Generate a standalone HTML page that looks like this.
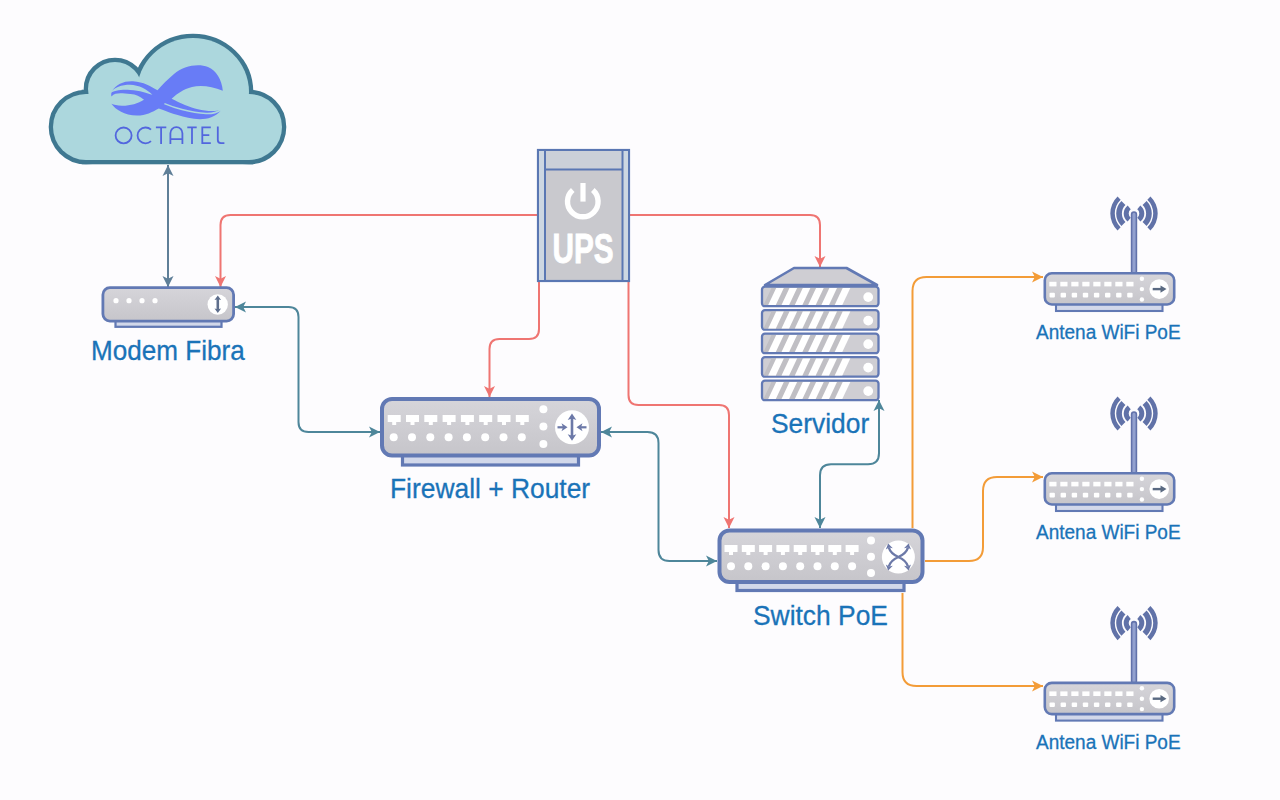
<!DOCTYPE html>
<html><head><meta charset="utf-8"><style>html,body{margin:0;padding:0;background:#fdfcfe;overflow:hidden;}svg{display:block;}</style></head>
<body><svg width="1280" height="800" viewBox="0 0 1280 800"><defs><linearGradient id="gbody" x1="0" y1="0" x2="0" y2="1"><stop offset="0" stop-color="#d6d5da"/><stop offset="1" stop-color="#c6c5ca"/></linearGradient></defs><rect width="1280" height="800" fill="#fdfcfe"/><g><circle cx="86" cy="127" r="33" fill="#3f7891" stroke="#3f7891" stroke-width="8.6"/><circle cx="115" cy="89" r="27" fill="#3f7891" stroke="#3f7891" stroke-width="8.6"/><ellipse cx="193" cy="92" rx="56" ry="54" fill="#3f7891" stroke="#3f7891" stroke-width="8.6"/><circle cx="249" cy="127" r="33" fill="#3f7891" stroke="#3f7891" stroke-width="8.6"/><rect x="86" y="94" width="163" height="66" fill="#3f7891" stroke="#3f7891" stroke-width="8.6"/><circle cx="86" cy="127" r="33" fill="#acd7dd" stroke="none" stroke-width="0"/><circle cx="115" cy="89" r="27" fill="#acd7dd" stroke="none" stroke-width="0"/><ellipse cx="193" cy="92" rx="56" ry="54" fill="#acd7dd" stroke="none" stroke-width="0"/><circle cx="249" cy="127" r="33" fill="#acd7dd" stroke="none" stroke-width="0"/><rect x="86" y="94" width="163" height="66" fill="#acd7dd" stroke="none" stroke-width="0"/></g><g fill="#687cf6"><path d="M111.4,103.7 C116,110 124,115 137,115.5 C146,115.5 152,112 158.8,108.4 C166,111 178,116 194,118.8 C203,120 214,119 221.2,110 C214,112 205,111 198,109.2 C190,107.5 180,103 171.6,98.8 C178,93 183,89.5 192,87 C200,85 212,86 222.8,90.8 C222,80 216,70 208,67 C198,63 183,66 174,74 C168,79 162,85 157.5,90.2 C150,86 144,82 133,81.2 C124,80.8 116,84 111.9,91.3 C111,93 111.2,95 111.4,96.4 C116,92 122,93.5 130.5,94.1 C136,94.5 140,96.5 144,99.7 C138,103.5 130,105.8 122,105.7 C117,105.6 114,104.8 111.4,103.7 Z"/></g><path d="M109,94 C114,87 122,84.8 130,84.8 C139,85 147,89.5 152.4,94.7 C147,93 140,90.5 130,89.9 C122,89.4 114,90 109,94 Z" fill="#acd7dd"/><path d="M164.4,103.6 C170,106 176,108 182,109.5 C190,111.5 198,113 206,113.5 C212,113.8 217,112.5 220.8,110" fill="none" stroke="#acd7dd" stroke-width="1.5"/><g fill="none" stroke="#5266de" stroke-width="1.8" stroke-linecap="butt"><ellipse cx="123.6" cy="135.4" rx="8" ry="7.9"/><path d="M151,129.6 A8,7.9 0 1 0 151,141.2"/><path d="M155.9,127.4 H166.3 M161.1,127.4 V144"/><path d="M170.4,144 V133.2 A6,6 0 0 1 182.4,133.2 V144 M170.4,139.2 H182.4"/><path d="M187.3,127.4 H196.7 M192,127.4 V144"/><path d="M210.8,127.4 H202.3 V143.1 H210.8 M202.3,135.2 H209.3"/><path d="M217.8,126.5 V140.1 Q217.8,143.1 220.8,143.1 H224.4"/></g><path d="M168,287 L168,165" fill="none" stroke="#5f7f98" stroke-width="2"/><path d="M168.0,165.0 L173.5,176.0 L168.0,173.2 L162.5,176.0 Z" fill="#5f7f98"/><path d="M168.0,287.0 L162.5,276.0 L168.0,278.8 L173.5,276.0 Z" fill="#5f7f98"/><path d="M537,215 L230.5,215.0 Q220.5,215 220.5,225.0 L220.5,287" fill="none" stroke="#ef7572" stroke-width="2"/><path d="M220.5,287.0 L215.0,276.0 L220.5,278.8 L226.0,276.0 Z" fill="#ef7572"/><path d="M630,215 L810.0,215.0 Q820,215 820.0,225.0 L820,267" fill="none" stroke="#ef7572" stroke-width="2"/><path d="M820.0,267.0 L814.5,256.0 L820.0,258.8 L825.5,256.0 Z" fill="#ef7572"/><path d="M539,282 L539.0,329.0 Q539,339 529.0,339.0 L499.5,339.0 Q489.5,339 489.5,349.0 L489.5,397" fill="none" stroke="#ef7572" stroke-width="2"/><path d="M489.5,397.0 L484.0,386.0 L489.5,388.8 L495.0,386.0 Z" fill="#ef7572"/><path d="M628.5,282 L628.5,395.0 Q628.5,405 638.5,405.0 L719.0,405.0 Q729,405 729.0,415.0 L729,528" fill="none" stroke="#ef7572" stroke-width="2"/><path d="M729.0,528.0 L723.5,517.0 L729.0,519.8 L734.5,517.0 Z" fill="#ef7572"/><path d="M235,307 L288.5,307.0 Q298.5,307 298.5,317.0 L298.5,422.0 Q298.5,432 308.5,432.0 L380,432" fill="none" stroke="#4e869a" stroke-width="2"/><path d="M380.0,432.0 L369.0,437.5 L371.8,432.0 L369.0,426.5 Z" fill="#4e869a"/><path d="M235.0,307.0 L246.0,301.5 L243.2,307.0 L246.0,312.5 Z" fill="#4e869a"/><path d="M601,432 L647.5,432.0 Q658.5,432 658.5,443.0 L658.5,550.0 Q658.5,561 669.5,561.0 L717,561" fill="none" stroke="#4e869a" stroke-width="2"/><path d="M717.0,561.0 L706.0,566.5 L708.8,561.0 L706.0,555.5 Z" fill="#4e869a"/><path d="M601.0,432.0 L612.0,426.5 L609.2,432.0 L612.0,437.5 Z" fill="#4e869a"/><path d="M879,400 L879.0,453.3 Q879,464.3 868.0,464.3 L831.0,464.3 Q820,464.3 820.0,475.3 L820,528" fill="none" stroke="#4e869a" stroke-width="2"/><path d="M820.0,528.0 L814.5,517.0 L820.0,519.8 L825.5,517.0 Z" fill="#4e869a"/><path d="M879.0,400.0 L884.5,411.0 L879.0,408.2 L873.5,411.0 Z" fill="#4e869a"/><path d="M912.5,528 L912.5,291.0 Q912.5,277 926.5,277.0 L1043,277" fill="none" stroke="#f39c38" stroke-width="2"/><path d="M1043.0,277.0 L1032.0,282.5 L1034.8,277.0 L1032.0,271.5 Z" fill="#f39c38"/><path d="M925,561 L969.0,561.0 Q983,561 983.0,547.0 L983.0,491.0 Q983,477 997.0,477.0 L1043,477" fill="none" stroke="#f39c38" stroke-width="2"/><path d="M1043.0,477.0 L1032.0,482.5 L1034.8,477.0 L1032.0,471.5 Z" fill="#f39c38"/><path d="M902.5,593 L902.5,672.0 Q902.5,686 916.5,686.0 L1043,686" fill="none" stroke="#f39c38" stroke-width="2"/><path d="M1043.0,686.0 L1032.0,691.5 L1034.8,686.0 L1032.0,680.5 Z" fill="#f39c38"/><rect x="115.5" y="319.7" width="106.0" height="7.099999999999989" fill="#d2d8ea" stroke="#6279b4" stroke-width="2.2399999999999998"/><rect x="102.9" y="287.7" width="130.7" height="33.39999999999999" rx="7" fill="url(#gbody)" stroke="#6279b4" stroke-width="2.8"/><circle cx="116.0" cy="300.7" r="2.6" fill="#fff"/><circle cx="129.0" cy="300.7" r="2.6" fill="#fff"/><circle cx="142.0" cy="300.7" r="2.6" fill="#fff"/><circle cx="155.0" cy="300.7" r="2.6" fill="#fff"/><circle cx="217.7" cy="304.5" r="10.2" fill="#fff"/><line x1="217.8" y1="298" x2="217.8" y2="310.5" stroke="#5e6e8c" stroke-width="2.6"/><path d="M217.8,295.5 L221.1,300.0 L217.8,299.2 L214.5,300.0 Z" fill="#5e6e8c"/><path d="M217.8,313.0 L214.5,308.5 L217.8,309.3 L221.1,308.5 Z" fill="#5e6e8c"/><rect x="402.5" y="453.5" width="176.0" height="11.5" fill="#d2d8ea" stroke="#6279b4" stroke-width="3.2"/><rect x="382.0" y="399.0" width="217" height="56.5" rx="10" fill="url(#gbody)" stroke="#6279b4" stroke-width="4"/><rect x="387.7" y="415.0" width="13" height="7" fill="#fff"/><rect x="392.2" y="422.0" width="4" height="3" fill="#fff"/><rect x="406.0" y="415.0" width="13" height="7" fill="#fff"/><rect x="410.5" y="422.0" width="4" height="3" fill="#fff"/><rect x="424.3" y="415.0" width="13" height="7" fill="#fff"/><rect x="428.8" y="422.0" width="4" height="3" fill="#fff"/><rect x="442.6" y="415.0" width="13" height="7" fill="#fff"/><rect x="447.1" y="422.0" width="4" height="3" fill="#fff"/><rect x="460.9" y="415.0" width="13" height="7" fill="#fff"/><rect x="465.4" y="422.0" width="4" height="3" fill="#fff"/><rect x="479.2" y="415.0" width="13" height="7" fill="#fff"/><rect x="483.7" y="422.0" width="4" height="3" fill="#fff"/><rect x="497.5" y="415.0" width="13" height="7" fill="#fff"/><rect x="502.0" y="422.0" width="4" height="3" fill="#fff"/><rect x="515.8" y="415.0" width="13" height="7" fill="#fff"/><rect x="520.3" y="422.0" width="4" height="3" fill="#fff"/><circle cx="393.7" cy="437.3" r="4" fill="#fff"/><circle cx="412.0" cy="437.3" r="4" fill="#fff"/><circle cx="430.3" cy="437.3" r="4" fill="#fff"/><circle cx="448.6" cy="437.3" r="4" fill="#fff"/><circle cx="466.9" cy="437.3" r="4" fill="#fff"/><circle cx="485.2" cy="437.3" r="4" fill="#fff"/><circle cx="503.5" cy="437.3" r="4" fill="#fff"/><circle cx="521.8" cy="437.3" r="4" fill="#fff"/><circle cx="543.4" cy="409.2" r="4" fill="#fff"/><circle cx="543.4" cy="426.6" r="4" fill="#fff"/><circle cx="543.4" cy="444.0" r="4" fill="#fff"/><circle cx="572" cy="427.3" r="17" fill="#fff"/><g stroke="#6c79a8" fill="none"><line x1="572" y1="418" x2="572" y2="436" stroke-width="2.6"/><line x1="557.5" y1="427.3" x2="564" y2="427.3" stroke-width="2.2"/><line x1="580" y1="427.3" x2="586.5" y2="427.3" stroke-width="2.2"/></g><path d="M572.0,413.5 L576.3,420.0 L572.0,418.5 L567.7,420.0 Z" fill="#6c79a8"/><path d="M572.0,440.8 L567.7,434.3 L572.0,435.8 L576.3,434.3 Z" fill="#6c79a8"/><path d="M567.5,427.3 L561.5,431.3 L563.0,427.3 L561.5,423.3 Z" fill="#6c79a8"/><path d="M576.5,427.3 L582.5,423.3 L581.0,427.3 L582.5,431.3 Z" fill="#6c79a8"/><rect x="737" y="580" width="167" height="10.5" fill="#d2d8ea" stroke="#6279b4" stroke-width="3.2"/><rect x="719.5" y="530.5" width="203.0" height="51.5" rx="10" fill="url(#gbody)" stroke="#6279b4" stroke-width="4"/><rect x="724.5" y="545.0" width="13" height="7" fill="#fff"/><rect x="729.0" y="552.0" width="4" height="3" fill="#fff"/><rect x="741.8" y="545.0" width="13" height="7" fill="#fff"/><rect x="746.3" y="552.0" width="4" height="3" fill="#fff"/><rect x="759.1" y="545.0" width="13" height="7" fill="#fff"/><rect x="763.6" y="552.0" width="4" height="3" fill="#fff"/><rect x="776.4" y="545.0" width="13" height="7" fill="#fff"/><rect x="780.9" y="552.0" width="4" height="3" fill="#fff"/><rect x="793.7" y="545.0" width="13" height="7" fill="#fff"/><rect x="798.2" y="552.0" width="4" height="3" fill="#fff"/><rect x="811.0" y="545.0" width="13" height="7" fill="#fff"/><rect x="815.5" y="552.0" width="4" height="3" fill="#fff"/><rect x="828.3" y="545.0" width="13" height="7" fill="#fff"/><rect x="832.8" y="552.0" width="4" height="3" fill="#fff"/><rect x="845.6" y="545.0" width="13" height="7" fill="#fff"/><rect x="850.1" y="552.0" width="4" height="3" fill="#fff"/><circle cx="731.0" cy="566.3" r="4" fill="#fff"/><circle cx="748.3" cy="566.3" r="4" fill="#fff"/><circle cx="765.6" cy="566.3" r="4" fill="#fff"/><circle cx="782.9" cy="566.3" r="4" fill="#fff"/><circle cx="800.2" cy="566.3" r="4" fill="#fff"/><circle cx="817.5" cy="566.3" r="4" fill="#fff"/><circle cx="834.8" cy="566.3" r="4" fill="#fff"/><circle cx="852.1" cy="566.3" r="4" fill="#fff"/><circle cx="871" cy="540.5" r="4" fill="#fff"/><circle cx="871" cy="556.7" r="4" fill="#fff"/><circle cx="871" cy="572.9" r="4" fill="#fff"/><circle cx="898.4" cy="557" r="16.5" fill="#fff"/><path d="M888.8,547.5 Q890.5,553.5 898.4,557 Q906.3,553.5 908,547.5 M888.8,566.5 Q890.5,560.5 898.4,557 Q906.3,560.5 908,566.5" fill="none" stroke="#6c79a8" stroke-width="2.4"/><path d="M888.2,543.5 L892.8,548.2 L889.0,547.4 L885.8,549.6 Z" fill="#6c79a8"/><path d="M908.6,543.5 L911.0,549.6 L907.8,547.4 L904.0,548.2 Z" fill="#6c79a8"/><path d="M888.2,570.5 L885.8,564.4 L889.0,566.6 L892.8,565.8 Z" fill="#6c79a8"/><path d="M908.6,570.5 L904.0,565.8 L907.8,566.6 L911.0,564.4 Z" fill="#6c79a8"/><path d="M1117.54,196.45 A23.7,23.7 0 0 0 1117.54,230.55 L1120.66,227.31 A19.2,19.2 0 0 1 1120.66,199.69 Z" fill="#6172a8"/><path d="M1150.46,196.45 A23.7,23.7 0 0 1 1150.46,230.55 L1147.34,227.31 A19.2,19.2 0 0 0 1147.34,199.69 Z" fill="#6172a8"/><path d="M1121.41,200.91 A17.8,17.8 0 0 0 1121.41,226.09 L1125.44,222.06 A12.1,12.1 0 0 1 1125.44,204.94 Z" fill="#6172a8"/><path d="M1146.59,200.91 A17.8,17.8 0 0 1 1146.59,226.09 L1142.56,222.06 A12.1,12.1 0 0 0 1142.56,204.94 Z" fill="#6172a8"/><path d="M1127.66,205.38 A10.3,10.3 0 0 0 1127.66,221.62 L1130.74,217.68 A5.3,5.3 0 0 1 1130.74,209.32 Z" fill="#6172a8"/><path d="M1140.34,205.38 A10.3,10.3 0 0 1 1140.34,221.62 L1137.26,217.68 A5.3,5.3 0 0 0 1137.26,209.32 Z" fill="#6172a8"/><rect x="1131.6" y="212" width="4.8" height="62" rx="2.4" fill="#93a1cf" stroke="#6272aa" stroke-width="1.6"/><rect x="1056" y="303.2" width="106.5" height="7.8" fill="#d2d8ea" stroke="#6279b4" stroke-width="2.08"/><rect x="1044.8" y="273.3" width="129.4" height="31.20000000000001" rx="7" fill="url(#gbody)" stroke="#6279b4" stroke-width="2.6"/><rect x="1049.3" y="281.8" width="7.2" height="4.6" fill="#fff"/><rect x="1049.5" y="292.8" width="5.4" height="4.6" rx="1" fill="#fff"/><rect x="1060.3" y="281.8" width="7.2" height="4.6" fill="#fff"/><rect x="1060.6" y="292.8" width="5.4" height="4.6" rx="1" fill="#fff"/><rect x="1071.3" y="281.8" width="7.2" height="4.6" fill="#fff"/><rect x="1071.7" y="292.8" width="5.4" height="4.6" rx="1" fill="#fff"/><rect x="1082.3" y="281.8" width="7.2" height="4.6" fill="#fff"/><rect x="1082.8" y="292.8" width="5.4" height="4.6" rx="1" fill="#fff"/><rect x="1093.3" y="281.8" width="7.2" height="4.6" fill="#fff"/><rect x="1093.9" y="292.8" width="5.4" height="4.6" rx="1" fill="#fff"/><rect x="1104.3" y="281.8" width="7.2" height="4.6" fill="#fff"/><rect x="1105.0" y="292.8" width="5.4" height="4.6" rx="1" fill="#fff"/><rect x="1115.3" y="281.8" width="7.2" height="4.6" fill="#fff"/><rect x="1116.1" y="292.8" width="5.4" height="4.6" rx="1" fill="#fff"/><rect x="1126.3" y="281.8" width="7.2" height="4.6" fill="#fff"/><rect x="1127.2" y="292.8" width="5.4" height="4.6" rx="1" fill="#fff"/><circle cx="1141.9" cy="278.7" r="2.2" fill="#fff"/><circle cx="1141.9" cy="289.1" r="2.2" fill="#fff"/><circle cx="1141.9" cy="299.5" r="2.2" fill="#fff"/><circle cx="1159.2" cy="289.1" r="9.8" fill="#fff"/><line x1="1152.7" y1="289.1" x2="1161" y2="289.1" stroke="#5a6a82" stroke-width="2.4"/><path d="M1166.5,289.1 L1160.5,292.7 L1160.5,289.1 L1160.5,285.5 Z" fill="#5a6a82"/><path d="M1117.54,396.45 A23.7,23.7 0 0 0 1117.54,430.55 L1120.66,427.31 A19.2,19.2 0 0 1 1120.66,399.69 Z" fill="#6172a8"/><path d="M1150.46,396.45 A23.7,23.7 0 0 1 1150.46,430.55 L1147.34,427.31 A19.2,19.2 0 0 0 1147.34,399.69 Z" fill="#6172a8"/><path d="M1121.41,400.91 A17.8,17.8 0 0 0 1121.41,426.09 L1125.44,422.06 A12.1,12.1 0 0 1 1125.44,404.94 Z" fill="#6172a8"/><path d="M1146.59,400.91 A17.8,17.8 0 0 1 1146.59,426.09 L1142.56,422.06 A12.1,12.1 0 0 0 1142.56,404.94 Z" fill="#6172a8"/><path d="M1127.66,405.38 A10.3,10.3 0 0 0 1127.66,421.62 L1130.74,417.68 A5.3,5.3 0 0 1 1130.74,409.32 Z" fill="#6172a8"/><path d="M1140.34,405.38 A10.3,10.3 0 0 1 1140.34,421.62 L1137.26,417.68 A5.3,5.3 0 0 0 1137.26,409.32 Z" fill="#6172a8"/><rect x="1131.6" y="412" width="4.8" height="62" rx="2.4" fill="#93a1cf" stroke="#6272aa" stroke-width="1.6"/><rect x="1056" y="503.2" width="106.5" height="7.799999999999943" fill="#d2d8ea" stroke="#6279b4" stroke-width="2.08"/><rect x="1044.8" y="473.3" width="129.4" height="31.20000000000001" rx="7" fill="url(#gbody)" stroke="#6279b4" stroke-width="2.6"/><rect x="1049.3" y="481.8" width="7.2" height="4.6" fill="#fff"/><rect x="1049.5" y="492.8" width="5.4" height="4.6" rx="1" fill="#fff"/><rect x="1060.3" y="481.8" width="7.2" height="4.6" fill="#fff"/><rect x="1060.6" y="492.8" width="5.4" height="4.6" rx="1" fill="#fff"/><rect x="1071.3" y="481.8" width="7.2" height="4.6" fill="#fff"/><rect x="1071.7" y="492.8" width="5.4" height="4.6" rx="1" fill="#fff"/><rect x="1082.3" y="481.8" width="7.2" height="4.6" fill="#fff"/><rect x="1082.8" y="492.8" width="5.4" height="4.6" rx="1" fill="#fff"/><rect x="1093.3" y="481.8" width="7.2" height="4.6" fill="#fff"/><rect x="1093.9" y="492.8" width="5.4" height="4.6" rx="1" fill="#fff"/><rect x="1104.3" y="481.8" width="7.2" height="4.6" fill="#fff"/><rect x="1105.0" y="492.8" width="5.4" height="4.6" rx="1" fill="#fff"/><rect x="1115.3" y="481.8" width="7.2" height="4.6" fill="#fff"/><rect x="1116.1" y="492.8" width="5.4" height="4.6" rx="1" fill="#fff"/><rect x="1126.3" y="481.8" width="7.2" height="4.6" fill="#fff"/><rect x="1127.2" y="492.8" width="5.4" height="4.6" rx="1" fill="#fff"/><circle cx="1141.9" cy="478.7" r="2.2" fill="#fff"/><circle cx="1141.9" cy="489.1" r="2.2" fill="#fff"/><circle cx="1141.9" cy="499.5" r="2.2" fill="#fff"/><circle cx="1159.2" cy="489.1" r="9.8" fill="#fff"/><line x1="1152.7" y1="489.1" x2="1161" y2="489.1" stroke="#5a6a82" stroke-width="2.4"/><path d="M1166.5,489.1 L1160.5,492.7 L1160.5,489.1 L1160.5,485.5 Z" fill="#5a6a82"/><path d="M1117.54,606.05 A23.7,23.7 0 0 0 1117.54,640.15 L1120.66,636.91 A19.2,19.2 0 0 1 1120.66,609.29 Z" fill="#6172a8"/><path d="M1150.46,606.05 A23.7,23.7 0 0 1 1150.46,640.15 L1147.34,636.91 A19.2,19.2 0 0 0 1147.34,609.29 Z" fill="#6172a8"/><path d="M1121.41,610.51 A17.8,17.8 0 0 0 1121.41,635.69 L1125.44,631.66 A12.1,12.1 0 0 1 1125.44,614.54 Z" fill="#6172a8"/><path d="M1146.59,610.51 A17.8,17.8 0 0 1 1146.59,635.69 L1142.56,631.66 A12.1,12.1 0 0 0 1142.56,614.54 Z" fill="#6172a8"/><path d="M1127.66,614.98 A10.3,10.3 0 0 0 1127.66,631.22 L1130.74,627.28 A5.3,5.3 0 0 1 1130.74,618.92 Z" fill="#6172a8"/><path d="M1140.34,614.98 A10.3,10.3 0 0 1 1140.34,631.22 L1137.26,627.28 A5.3,5.3 0 0 0 1137.26,618.92 Z" fill="#6172a8"/><rect x="1131.6" y="621.6" width="4.8" height="62" rx="2.4" fill="#93a1cf" stroke="#6272aa" stroke-width="1.6"/><rect x="1056" y="712.8" width="106.5" height="7.8" fill="#d2d8ea" stroke="#6279b4" stroke-width="2.08"/><rect x="1044.8" y="682.9" width="129.4" height="31.199999999999953" rx="7" fill="url(#gbody)" stroke="#6279b4" stroke-width="2.6"/><rect x="1049.3" y="691.4" width="7.2" height="4.6" fill="#fff"/><rect x="1049.5" y="702.4" width="5.4" height="4.6" rx="1" fill="#fff"/><rect x="1060.3" y="691.4" width="7.2" height="4.6" fill="#fff"/><rect x="1060.6" y="702.4" width="5.4" height="4.6" rx="1" fill="#fff"/><rect x="1071.3" y="691.4" width="7.2" height="4.6" fill="#fff"/><rect x="1071.7" y="702.4" width="5.4" height="4.6" rx="1" fill="#fff"/><rect x="1082.3" y="691.4" width="7.2" height="4.6" fill="#fff"/><rect x="1082.8" y="702.4" width="5.4" height="4.6" rx="1" fill="#fff"/><rect x="1093.3" y="691.4" width="7.2" height="4.6" fill="#fff"/><rect x="1093.9" y="702.4" width="5.4" height="4.6" rx="1" fill="#fff"/><rect x="1104.3" y="691.4" width="7.2" height="4.6" fill="#fff"/><rect x="1105.0" y="702.4" width="5.4" height="4.6" rx="1" fill="#fff"/><rect x="1115.3" y="691.4" width="7.2" height="4.6" fill="#fff"/><rect x="1116.1" y="702.4" width="5.4" height="4.6" rx="1" fill="#fff"/><rect x="1126.3" y="691.4" width="7.2" height="4.6" fill="#fff"/><rect x="1127.2" y="702.4" width="5.4" height="4.6" rx="1" fill="#fff"/><circle cx="1141.9" cy="688.3" r="2.2" fill="#fff"/><circle cx="1141.9" cy="698.7" r="2.2" fill="#fff"/><circle cx="1141.9" cy="709.1" r="2.2" fill="#fff"/><circle cx="1159.2" cy="698.7" r="9.8" fill="#fff"/><line x1="1152.7" y1="698.7" x2="1161" y2="698.7" stroke="#5a6a82" stroke-width="2.4"/><path d="M1166.5,698.7 L1160.5,702.3 L1160.5,698.7 L1160.5,695.1 Z" fill="#5a6a82"/><rect x="538" y="150" width="91" height="131" fill="#c9c9ce" stroke="#5a77b3" stroke-width="2.2"/><rect x="539" y="151" width="6" height="129" fill="#cdd7e2"/><rect x="622" y="151" width="6" height="129" fill="#cdd7e2"/><rect x="545" y="151" width="77" height="18" fill="#cbd0d8"/><g stroke="#5a77b3" stroke-width="2"><line x1="545" y1="150" x2="545" y2="281"/><line x1="622.5" y1="150" x2="622.5" y2="281"/><line x1="545" y1="169.5" x2="622.5" y2="169.5"/></g><path d="M572.76,189.95 A15.3,15.3 0 1 0 592.84,189.95" fill="none" stroke="#fff" stroke-width="5.4"/><line x1="583" y1="183" x2="583" y2="201.6" stroke="#fff" stroke-width="5.2"/><text x="583" y="263" text-anchor="middle" font-family="Liberation Sans" font-weight="bold" font-size="42.5" fill="#fff" stroke="#fff" stroke-width="0.9" transform="translate(583,0) scale(0.7,1) translate(-583,0)">UPS</text><path d="M794,268 L846.5,268 L877,285 L765,285 Z" fill="#cfced3" stroke="#6279b4" stroke-width="2.6" stroke-linejoin="round"/><rect x="762" y="286.6" width="116.5" height="19.6" rx="3" fill="#cfced3" stroke="#6279b4" stroke-width="2.3"/><path d="M763.5,305.0 L840,305.0 L848,287.9 L771.5,287.9 Z" fill="#c0bfc4"/><path d="M768.2,305.0 L775.8,305.0 L783.8,287.9 L776.2,287.9 Z" fill="#fff"/><path d="M781.5,305.0 L789.1,305.0 L797.1,287.9 L789.5,287.9 Z" fill="#fff"/><path d="M794.8,305.0 L802.4,305.0 L810.4,287.9 L802.8,287.9 Z" fill="#fff"/><path d="M808.1,305.0 L815.7,305.0 L823.7,287.9 L816.1,287.9 Z" fill="#fff"/><path d="M821.4,305.0 L829.0,305.0 L837.0,287.9 L829.4,287.9 Z" fill="#fff"/><path d="M834.7,305.0 L842.3,305.0 L850.3,287.9 L842.7,287.9 Z" fill="#fff"/><circle cx="868.2" cy="297.1" r="4.9" fill="#fff"/><rect x="762" y="310.1" width="116.5" height="19.6" rx="3" fill="#cfced3" stroke="#6279b4" stroke-width="2.3"/><path d="M763.5,328.5 L840,328.5 L848,311.4 L771.5,311.4 Z" fill="#c0bfc4"/><path d="M768.2,328.5 L775.8,328.5 L783.8,311.4 L776.2,311.4 Z" fill="#fff"/><path d="M781.5,328.5 L789.1,328.5 L797.1,311.4 L789.5,311.4 Z" fill="#fff"/><path d="M794.8,328.5 L802.4,328.5 L810.4,311.4 L802.8,311.4 Z" fill="#fff"/><path d="M808.1,328.5 L815.7,328.5 L823.7,311.4 L816.1,311.4 Z" fill="#fff"/><path d="M821.4,328.5 L829.0,328.5 L837.0,311.4 L829.4,311.4 Z" fill="#fff"/><path d="M834.7,328.5 L842.3,328.5 L850.3,311.4 L842.7,311.4 Z" fill="#fff"/><circle cx="868.2" cy="320.6" r="4.9" fill="#fff"/><rect x="762" y="333.6" width="116.5" height="19.6" rx="3" fill="#cfced3" stroke="#6279b4" stroke-width="2.3"/><path d="M763.5,352.0 L840,352.0 L848,334.9 L771.5,334.9 Z" fill="#c0bfc4"/><path d="M768.2,352.0 L775.8,352.0 L783.8,334.9 L776.2,334.9 Z" fill="#fff"/><path d="M781.5,352.0 L789.1,352.0 L797.1,334.9 L789.5,334.9 Z" fill="#fff"/><path d="M794.8,352.0 L802.4,352.0 L810.4,334.9 L802.8,334.9 Z" fill="#fff"/><path d="M808.1,352.0 L815.7,352.0 L823.7,334.9 L816.1,334.9 Z" fill="#fff"/><path d="M821.4,352.0 L829.0,352.0 L837.0,334.9 L829.4,334.9 Z" fill="#fff"/><path d="M834.7,352.0 L842.3,352.0 L850.3,334.9 L842.7,334.9 Z" fill="#fff"/><circle cx="868.2" cy="344.1" r="4.9" fill="#fff"/><rect x="762" y="357.1" width="116.5" height="19.6" rx="3" fill="#cfced3" stroke="#6279b4" stroke-width="2.3"/><path d="M763.5,375.5 L840,375.5 L848,358.4 L771.5,358.4 Z" fill="#c0bfc4"/><path d="M768.2,375.5 L775.8,375.5 L783.8,358.4 L776.2,358.4 Z" fill="#fff"/><path d="M781.5,375.5 L789.1,375.5 L797.1,358.4 L789.5,358.4 Z" fill="#fff"/><path d="M794.8,375.5 L802.4,375.5 L810.4,358.4 L802.8,358.4 Z" fill="#fff"/><path d="M808.1,375.5 L815.7,375.5 L823.7,358.4 L816.1,358.4 Z" fill="#fff"/><path d="M821.4,375.5 L829.0,375.5 L837.0,358.4 L829.4,358.4 Z" fill="#fff"/><path d="M834.7,375.5 L842.3,375.5 L850.3,358.4 L842.7,358.4 Z" fill="#fff"/><circle cx="868.2" cy="367.6" r="4.9" fill="#fff"/><rect x="762" y="380.6" width="116.5" height="19.6" rx="3" fill="#cfced3" stroke="#6279b4" stroke-width="2.3"/><path d="M763.5,399.0 L840,399.0 L848,381.9 L771.5,381.9 Z" fill="#c0bfc4"/><path d="M768.2,399.0 L775.8,399.0 L783.8,381.9 L776.2,381.9 Z" fill="#fff"/><path d="M781.5,399.0 L789.1,399.0 L797.1,381.9 L789.5,381.9 Z" fill="#fff"/><path d="M794.8,399.0 L802.4,399.0 L810.4,381.9 L802.8,381.9 Z" fill="#fff"/><path d="M808.1,399.0 L815.7,399.0 L823.7,381.9 L816.1,381.9 Z" fill="#fff"/><path d="M821.4,399.0 L829.0,399.0 L837.0,381.9 L829.4,381.9 Z" fill="#fff"/><path d="M834.7,399.0 L842.3,399.0 L850.3,381.9 L842.7,381.9 Z" fill="#fff"/><circle cx="868.2" cy="391.1" r="4.9" fill="#fff"/><text transform="translate(91,359.5) scale(0.95,1)" font-family="Liberation Sans" font-size="27.5" letter-spacing="0" fill="#1a73b8" stroke="#1a73b8" stroke-width="0.3">Modem Fibra</text><text transform="translate(390,497.5) scale(0.96,1)" font-family="Liberation Sans" font-size="27.5" letter-spacing="0" fill="#1a73b8" stroke="#1a73b8" stroke-width="0.3">Firewall + Router</text><text transform="translate(753,624.8) scale(0.96,1)" font-family="Liberation Sans" font-size="27.5" letter-spacing="0" fill="#1a73b8" stroke="#1a73b8" stroke-width="0.3">Switch PoE</text><text transform="translate(771,432.5) scale(0.96,1)" font-family="Liberation Sans" font-size="27.5" letter-spacing="0" fill="#1a73b8" stroke="#1a73b8" stroke-width="0.3">Servidor</text><text transform="translate(1036,339.3) scale(0.96,1)" font-family="Liberation Sans" font-size="19.8" letter-spacing="0" fill="#1a73b8" stroke="#1a73b8" stroke-width="0.3">Antena WiFi PoE</text><text transform="translate(1036,539.3) scale(0.96,1)" font-family="Liberation Sans" font-size="19.8" letter-spacing="0" fill="#1a73b8" stroke="#1a73b8" stroke-width="0.3">Antena WiFi PoE</text><text transform="translate(1036,748.9000000000001) scale(0.96,1)" font-family="Liberation Sans" font-size="19.8" letter-spacing="0" fill="#1a73b8" stroke="#1a73b8" stroke-width="0.3">Antena WiFi PoE</text></svg></body></html>
